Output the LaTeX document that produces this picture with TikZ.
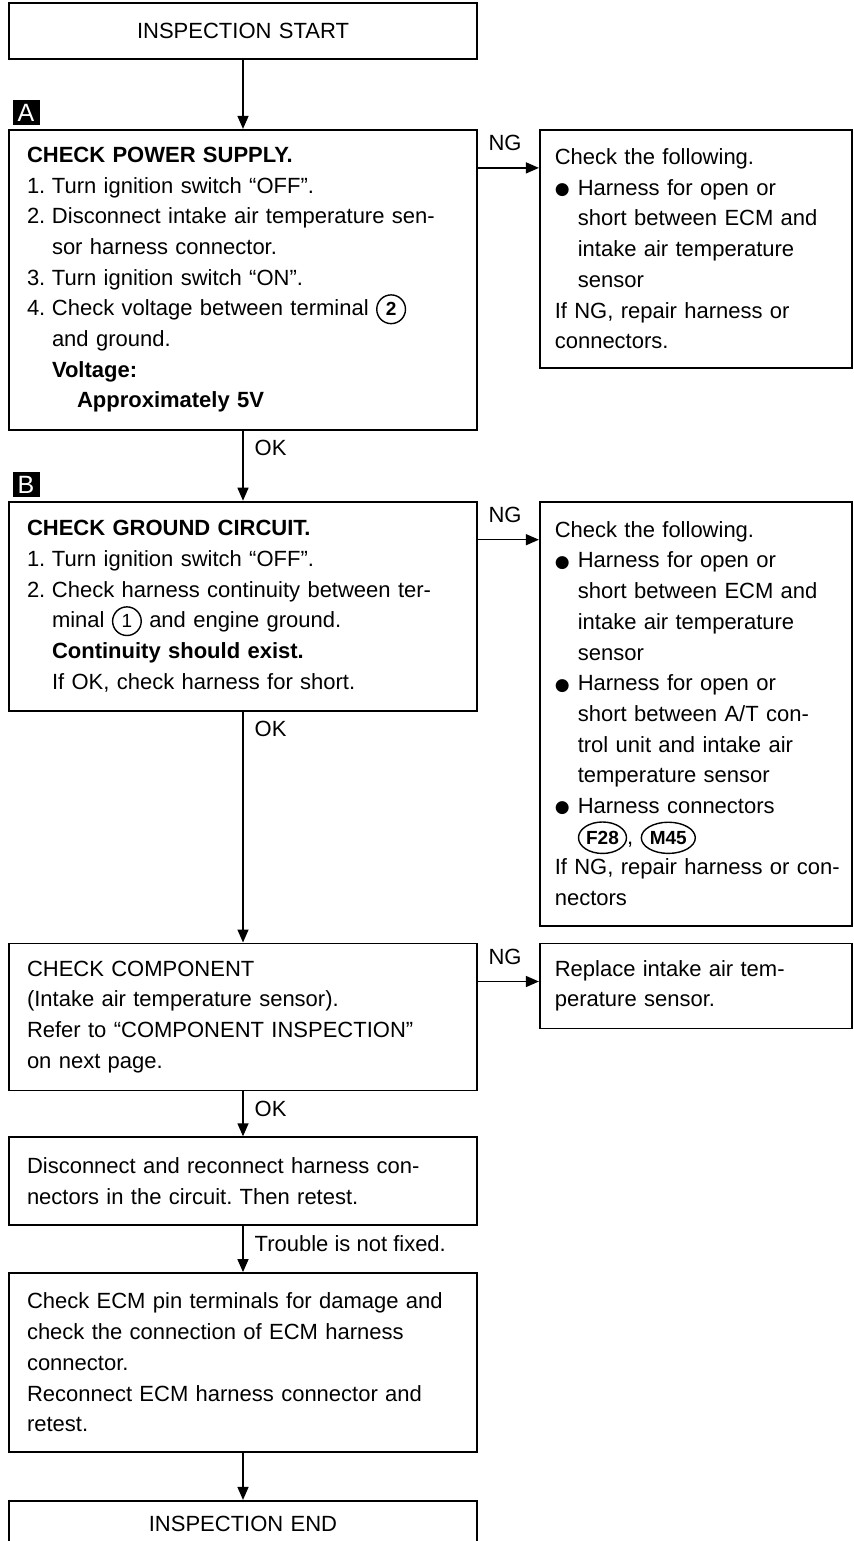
\documentclass[tikz,border=0pt]{standalone}
\usepackage{fontspec}
\setmainfont{Liberation Sans}
\newfontfamily\dejavu{DejaVu Sans}
\usepackage{tikz}
\usetikzlibrary{arrows.meta,positioning,shapes.geometric}
\frenchspacing
\newcommand{\itm}[1]{\makebox[12.5pt][l]{#1.}}
\newcommand{\ind}{\hspace*{12.5pt}}
\newcommand{\bul}{\makebox[11.5pt][l]{\raisebox{0.3pt}{\dejavu\fontsize{8.5}{8.5}\selectfont ●}}}
\newcommand{\bind}{\hspace*{11.5pt}}
\newcommand{\term}[2][]{\tikz[baseline=(t.base)]\node[draw,circle,line width=0.7pt,inner sep=2.1pt,text width=,minimum size=0pt,align=center,font=#1\fontsize{9.5}{9.5}\selectfont](t){#2};}
\newcommand{\conn}[1]{\tikz[baseline=(c.base)]\node[draw,ellipse,line width=0.7pt,inner xsep=0.3pt,inner ysep=2.2pt,text width=,minimum size=0pt,align=center,font=\bfseries\fontsize{9.5}{9.5}\selectfont](c){#1};}

\begin{document}
\begin{tikzpicture}[x=1pt,y=1pt,every node/.style={font=\fontsize{11}{15.35}\selectfont},
box/.style={draw,line width=0.9pt,inner xsep=9pt,inner ysep=0pt,text width=216pt,align=left,minimum height=#1},
endbox/.style={box=28pt,align=center},
fixbox/.style={draw,line width=0.9pt,inner xsep=7.5pt,inner ysep=0pt,text width=141pt,align=left,minimum height=#1},
tag/.style={fill=black,text=white,inner sep=0pt,minimum width=13.5pt,minimum height=12.5pt,anchor=south west,font=\fontsize{12.5}{12.5}\selectfont},
arr/.style={-{Triangle[length=6.5pt,width=5.5pt]},line width=0.7pt},
nglbl/.style={pos=0,anchor=south west,inner sep=2pt,xshift=3pt,yshift=6pt},
oklbl/.style={pos=0,anchor=north west,inner sep=2pt,xshift=3.5pt,yshift=-2.5pt}]
\useasboundingbox (0,0) rectangle (426.5,-770.5);
\node[endbox] (start) at (121.5,-15.5) {INSPECTION START};
\node[box=150pt,below=34.5pt of start] (chkA) {\textbf{CHECK POWER SUPPLY.}\\
\itm{1}Turn ignition switch “OFF”.\\
\itm{2}Disconnect intake air temperature sen-\\
\ind sor harness connector.\\
\itm{3}Turn ignition switch “ON”.\\
\itm{4}Check voltage between terminal \term[\bfseries]{2}\\
\ind and ground.\\
\ind\textbf{Voltage:}\\
\ind\hspace*{12.5pt}\textbf{Approximately 5V}};
\node[tag] (tagA) at ([shift={(2pt,1.5pt)}]chkA.north west) {A};
\node[fixbox=119pt,right=30.5pt of chkA.north east,anchor=north west] (fixA) {Check the following.\\
\bul Harness for open or\\
\bind short between ECM and\\
\bind intake air temperature\\
\bind sensor\\
If NG, repair harness or\\
connectors.};
\node[box=104.5pt,below=35pt of chkA] (chkB) {\textbf{CHECK GROUND CIRCUIT.}\\
\itm{1}Turn ignition switch “OFF”.\\
\itm{2}Check harness continuity between ter-\\
\ind minal \term{1} and engine ground.\\
\ind\textbf{Continuity should exist.}\\
\ind If OK, check harness for short.};
\node[tag] (tagB) at ([shift={(2pt,1.5pt)}]chkB.north west) {B};
\node[fixbox=212pt,right=30.5pt of chkB.north east,anchor=north west] (fixB) {Check the following.\\
\bul Harness for open or\\
\bind short between ECM and\\
\bind intake air temperature\\
\bind sensor\\
\bul Harness for open or\\
\bind short between A/T con-\\
\bind trol unit and intake air\\
\bind temperature sensor\\
\bul Harness connectors\\
\bind \conn{F28}, \conn{M45}\\
\mbox{If NG, repair harness or con-}\\
nectors};
\node[box=73.5pt,below=115.5pt of chkB] (chkC) {CHECK COMPONENT\\
(Intake air temperature sensor).\\
Refer to “COMPONENT INSPECTION”\\
on next page.};
\node[fixbox=42.5pt,right=30.5pt of chkC.north east,anchor=north west] (fixC) {Replace intake air tem-\\
perature sensor.};
\node[box=44pt,below=22.5pt of chkC] (recon) {Disconnect and reconnect harness con-\\
nectors in the circuit. Then retest.};
\node[box=89.5pt,below=23pt of recon] (ecm) {Check ECM pin terminals for damage and\\
check the connection of ECM harness\\
connector.\\
Reconnect ECM harness connector and\\
retest.};
\node[endbox,text depth=5pt,below=23.5pt of ecm] (finish) {INSPECTION END};
\draw[arr] (start) -- (chkA);
\draw[arr] ([yshift=-19.5pt]chkA.north east) -- node[nglbl]{NG} ([yshift=-19.5pt]fixA.north west);
\draw[arr] (chkA) -- node[oklbl]{OK} (chkB);
\draw[arr] ([yshift=-19.5pt]chkB.north east) -- node[nglbl]{NG} ([yshift=-19.5pt]fixB.north west);
\draw[arr] (chkB) -- node[oklbl]{OK} (chkC);
\draw[arr] ([yshift=-19.5pt]chkC.north east) -- node[nglbl]{NG} ([yshift=-19.5pt]fixC.north west);
\draw[arr] (chkC) -- node[oklbl]{OK} (recon);
\draw[arr] (recon) -- node[oklbl]{Trouble is not fixed.} (ecm);
\draw[arr] (ecm) -- (finish);
\end{tikzpicture}
\end{document}
